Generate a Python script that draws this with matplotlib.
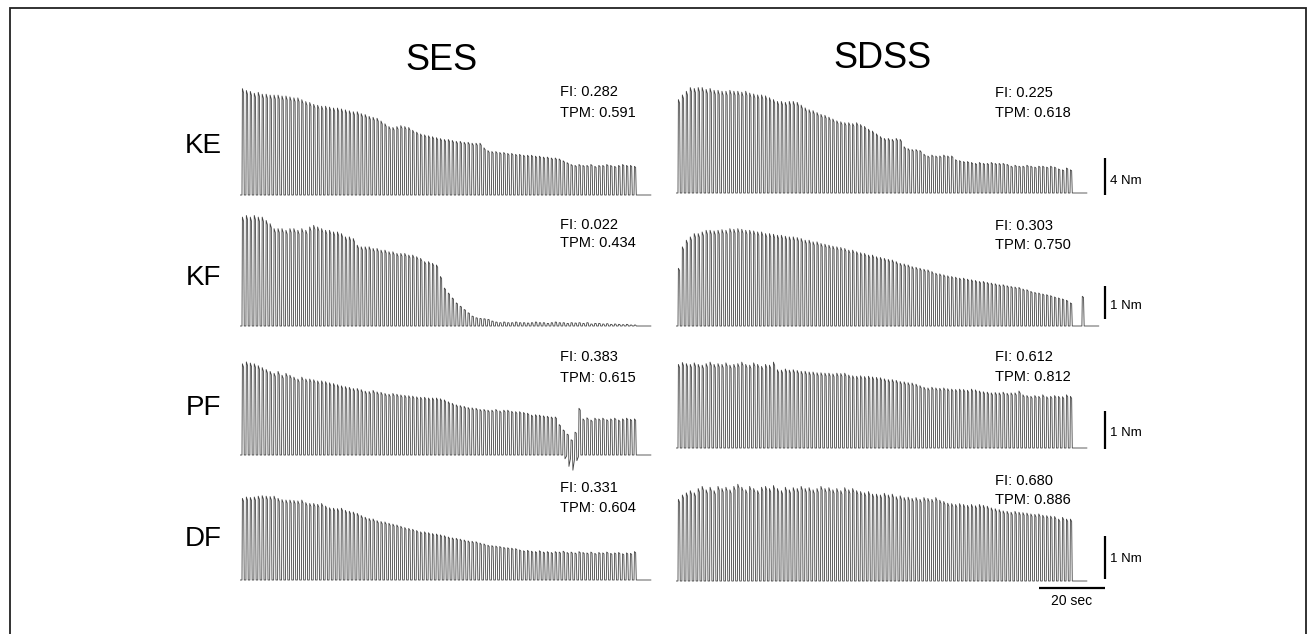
import numpy as np
import matplotlib
matplotlib.use("Agg")
import matplotlib.pyplot as plt
from matplotlib.patches import Rectangle

plt.rcParams['font.family'] = ['Liberation Sans', 'DejaVu Sans']

# ---------------- data (peak torque of each contraction, Nm) ----------------
muscles = ['KE', 'KF', 'PF', 'DF']
protocols = ['SES', 'SDSS']
fi_ses = [0.282, 0.022, 0.383, 0.331]
tpm_ses = [0.591, 0.434, 0.615, 0.604]
fi_sdss = [0.225, 0.303, 0.612, 0.680]
tpm_sdss = [0.618, 0.750, 0.812, 0.886]
scale_nm = [4, 1, 1, 1]
time_bar_s = 20

ke_ses = [11.5, 11.3, 11.2, 11.0, 11.1, 10.9, 10.9, 10.8, 10.8, 10.8,
          10.7, 10.7, 10.6, 10.5, 10.5, 10.3, 10.1, 10.0, 9.8, 9.7,
          9.6, 9.6, 9.5, 9.4, 9.4, 9.3, 9.2, 9.1, 9.0, 9.0,
          8.8, 8.7, 8.5, 8.4, 8.3, 8.0, 7.7, 7.4, 7.3, 7.4,
          7.5, 7.4, 7.3, 7.0, 6.8, 6.6, 6.5, 6.4, 6.3, 6.2,
          6.1, 6.0, 6.0, 5.9, 5.8, 5.8, 5.7, 5.7, 5.6, 5.6,
          5.6, 5.1, 4.8, 4.7, 4.7, 4.6, 4.6, 4.5, 4.5, 4.4,
          4.4, 4.3, 4.3, 4.3, 4.2, 4.2, 4.1, 4.1, 4.0, 4.0,
          3.9, 3.7, 3.5, 3.3, 3.2, 3.3, 3.2, 3.2, 3.3, 3.1,
          3.2, 3.2, 3.3, 3.2, 3.1, 3.2, 3.3, 3.2, 3.2, 3.1]
ke_sdss = [10.1, 10.6, 11.0, 11.4, 11.3, 11.4, 11.4, 11.2, 11.3, 11.1,
           11.1, 11.0, 11.0, 11.1, 11.0, 11.0, 10.9, 11.0, 10.8, 10.7,
           10.6, 10.6, 10.5, 10.3, 10.1, 9.9, 9.9, 9.8, 9.9, 9.9,
           9.8, 9.5, 9.2, 9.0, 8.9, 8.7, 8.5, 8.4, 8.2, 8.0,
           7.8, 7.7, 7.6, 7.6, 7.5, 7.6, 7.4, 7.2, 6.9, 6.7,
           6.4, 6.1, 5.9, 5.9, 5.8, 5.9, 5.8, 5.0, 4.8, 4.7,
           4.7, 4.6, 4.2, 4.0, 4.1, 4.0, 4.0, 4.1, 4.0, 4.0,
           3.6, 3.5, 3.4, 3.4, 3.3, 3.2, 3.3, 3.2, 3.2, 3.3,
           3.2, 3.2, 3.2, 3.1, 2.9, 3.0, 2.9, 2.9, 3.0, 2.9,
           2.8, 2.9, 2.9, 2.8, 2.9, 2.8, 2.6, 2.5, 2.7, 2.5]
kf_ses = [3.3, 3.35, 3.3, 3.35, 3.3, 3.3, 3.2, 3.1, 2.95, 2.95,
          2.95, 2.9, 2.95, 2.95, 2.9, 2.95, 2.9, 3.0, 3.05, 3.0,
          2.95, 2.9, 2.9, 2.85, 2.85, 2.8, 2.7, 2.7, 2.65, 2.45,
          2.4, 2.4, 2.4, 2.35, 2.35, 2.3, 2.3, 2.25, 2.25, 2.2,
          2.2, 2.2, 2.15, 2.15, 2.1, 2.05, 1.95, 1.95, 1.9, 1.85,
          1.5, 1.15, 1.0, 0.85, 0.7, 0.6, 0.5, 0.4, 0.3, 0.25,
          0.23, 0.22, 0.2, 0.15, 0.12, 0.1, 0.12, 0.1, 0.1, 0.12,
          0.1, 0.1, 0.09, 0.1, 0.12, 0.1, 0.1, 0.08, 0.1, 0.12,
          0.1, 0.1, 0.08, 0.1, 0.09, 0.1, 0.08, 0.1, 0.06, 0.08,
          0.08, 0.06, 0.07, 0.05, 0.06, 0.05, 0.04, 0.05, 0.03, 0.03]
kf_sdss = [1.75, 2.4, 2.6, 2.7, 2.8, 2.8, 2.85, 2.9, 2.9, 2.88,
           2.9, 2.92, 2.9, 2.95, 2.93, 2.95, 2.93, 2.9, 2.9, 2.88,
           2.85, 2.85, 2.8, 2.8, 2.78, 2.75, 2.75, 2.72, 2.7, 2.7,
           2.68, 2.65, 2.6, 2.6, 2.55, 2.55, 2.5, 2.48, 2.45, 2.42,
           2.4, 2.38, 2.35, 2.3, 2.3, 2.25, 2.22, 2.2, 2.15, 2.15,
           2.1, 2.08, 2.05, 2.02, 2.0, 1.95, 1.9, 1.88, 1.85, 1.8,
           1.78, 1.75, 1.72, 1.7, 1.65, 1.6, 1.58, 1.55, 1.52, 1.5,
           1.48, 1.45, 1.45, 1.42, 1.4, 1.38, 1.35, 1.35, 1.32, 1.3,
           1.28, 1.25, 1.25, 1.22, 1.2, 1.18, 1.17, 1.12, 1.1, 1.05,
           1.02, 1.0, 0.97, 0.95, 0.92, 0.88, 0.85, 0.82, 0.78, 0.7,
           0.0, 0.0, 0.9]
pf_ses = [2.4, 2.45, 2.42, 2.4, 2.35, 2.3, 2.25, 2.2, 2.15, 2.2,
          2.1, 2.15, 2.1, 2.05, 2.0, 2.05, 2.0, 2.0, 1.98, 1.95,
          1.95, 1.93, 1.9, 1.88, 1.85, 1.82, 1.8, 1.78, 1.75, 1.75,
          1.72, 1.68, 1.67, 1.7, 1.66, 1.65, 1.62, 1.6, 1.62, 1.6,
          1.58, 1.57, 1.56, 1.55, 1.53, 1.52, 1.52, 1.5, 1.5, 1.5,
          1.48, 1.45, 1.4, 1.36, 1.32, 1.3, 1.28, 1.25, 1.24, 1.23,
          1.2, 1.2, 1.18, 1.18, 1.2, 1.16, 1.18, 1.18, 1.15, 1.14,
          1.14, 1.12, 1.1, 1.05, 1.06, 1.05, 1.03, 1.02, 1.0, 1.0,
          0.8, 0.66, 0.55, 0.4, 0.6, 1.23, 0.95, 0.98, 0.92, 0.97,
          0.95, 0.97, 0.93, 0.95, 0.97, 0.92, 0.95, 0.97, 0.94, 0.95]
pf_ses_dip_idx = [81, 82, 83, 84]
pf_ses_dip_nm = [-0.1, -0.3, -0.4, -0.15]
pf_sdss = [2.2, 2.25, 2.22, 2.2, 2.24, 2.2, 2.18, 2.22, 2.26, 2.2,
           2.22, 2.2, 2.24, 2.18, 2.2, 2.22, 2.26, 2.2, 2.18, 2.24,
           2.2, 2.15, 2.2, 2.18, 2.26, 2.06, 2.05, 2.08, 2.05, 2.06,
           2.04, 2.02, 2.02, 2.0, 2.0, 1.98, 1.98, 1.97, 1.97, 1.95,
           1.97, 1.96, 1.97, 1.92, 1.9, 1.89, 1.9, 1.88, 1.89, 1.87,
           1.86, 1.85, 1.82, 1.8, 1.8, 1.78, 1.75, 1.74, 1.72, 1.71,
           1.68, 1.64, 1.6, 1.58, 1.6, 1.58, 1.57, 1.58, 1.56, 1.55,
           1.54, 1.55, 1.54, 1.52, 1.55, 1.53, 1.5, 1.48, 1.47, 1.45,
           1.46, 1.45, 1.47, 1.44, 1.45, 1.45, 1.5, 1.4, 1.38, 1.36,
           1.38, 1.36, 1.4, 1.35, 1.36, 1.38, 1.36, 1.35, 1.4, 1.36]
df_ses = [1.9, 1.93, 1.92, 1.93, 1.95, 1.96, 1.95, 1.94, 1.95, 1.9,
          1.87, 1.86, 1.86, 1.85, 1.84, 1.86, 1.8, 1.78, 1.78, 1.76,
          1.78, 1.72, 1.68, 1.67, 1.66, 1.67, 1.62, 1.6, 1.58, 1.55,
          1.5, 1.46, 1.43, 1.42, 1.38, 1.36, 1.35, 1.32, 1.3, 1.28,
          1.25, 1.22, 1.2, 1.18, 1.15, 1.12, 1.12, 1.1, 1.08, 1.07,
          1.05, 1.03, 1.0, 0.98, 0.97, 0.95, 0.93, 0.91, 0.9, 0.89,
          0.86, 0.84, 0.81, 0.8, 0.79, 0.78, 0.76, 0.75, 0.74, 0.73,
          0.7, 0.68, 0.69, 0.67, 0.66, 0.68, 0.65, 0.66, 0.64, 0.66,
          0.65, 0.67, 0.64, 0.65, 0.63, 0.66, 0.64, 0.63, 0.65, 0.62,
          0.64, 0.63, 0.65, 0.62, 0.63, 0.64, 0.61, 0.63, 0.62, 0.66]
df_sdss = [1.9, 2.0, 2.05, 2.1, 2.05, 2.15, 2.2, 2.12, 2.18, 2.1,
           2.2, 2.15, 2.18, 2.12, 2.2, 2.25, 2.18, 2.12, 2.2, 2.15,
           2.1, 2.18, 2.2, 2.15, 2.22, 2.15, 2.1, 2.18, 2.12, 2.17,
           2.15, 2.2, 2.15, 2.17, 2.12, 2.15, 2.2, 2.15, 2.17, 2.12,
           2.15, 2.1, 2.17, 2.12, 2.15, 2.1, 2.08, 2.05, 2.08, 2.02,
           2.02, 2.0, 2.04, 2.0, 2.02, 1.96, 1.98, 1.94, 1.95, 1.92,
           1.94, 1.9, 1.94, 1.92, 1.9, 1.94, 1.88, 1.85, 1.81, 1.8,
           1.78, 1.8, 1.78, 1.76, 1.78, 1.75, 1.78, 1.76, 1.74, 1.7,
           1.68, 1.66, 1.63, 1.62, 1.6, 1.62, 1.6, 1.59, 1.58, 1.56,
           1.55, 1.56, 1.53, 1.52, 1.51, 1.5, 1.44, 1.48, 1.44, 1.44]

peaks = {('KE', 'SES'): ke_ses, ('KE', 'SDSS'): ke_sdss,
         ('KF', 'SES'): kf_ses, ('KF', 'SDSS'): kf_sdss,
         ('PF', 'SES'): pf_ses, ('PF', 'SDSS'): pf_sdss,
         ('DF', 'SES'): df_ses, ('DF', 'SDSS'): df_sdss}
dips = {('PF', 'SES'): dict(zip(pf_ses_dip_idx, pf_ses_dip_nm))}

# ---------------- layout (pixels) ----------------
W, H = 1310, 634
PX_PER_S = 66 / 20.0
row_px_per_nm = [9.25, 33.0, 38.0, 43.0]
col_left_px = {'SES': 240, 'SDSS': 676}
baseline_px = {'SES': [195, 326, 455, 580], 'SDSS': [193, 326, 448, 581]}
XSPAN = 135.0
BELOW, ABOVE = 25, 125

PERIOD, ON, PRE, POST = 1.2, 0.6, 0.6, 4.5


def waveform(pk, dip):
    t = [0.0, PRE]
    y = [0.0, 0.0]
    for i, p in enumerate(pk):
        t0 = PRE + i * PERIOD
        if p <= 0:
            continue
        d = dip.get(i, 0.0)
        t += [t0, t0 + 0.12, t0 + ON - 0.1, t0 + ON + 0.08, t0 + PERIOD - 0.05]
        y += [0.0, p, p * 0.96, d, d * 0.3]
    t += [PRE + (len(pk) - 1) * PERIOD + ON + POST]
    y += [0.0]
    return np.array(t), np.array(y)


fig = plt.figure(figsize=(W / 100, H / 100), dpi=100)


def fx(px):
    return px / W


def fy(py):
    return 1 - py / H


# frame
fig.patches.append(Rectangle((fx(10), -0.05), fx(1296), fy(8) + 0.05, transform=fig.transFigure,
                             fill=False, edgecolor='#222222', linewidth=1.3))

axes = {}
for r, m in enumerate(muscles):
    s = row_px_per_nm[r]
    for c in protocols:
        b = baseline_px[c][r]
        ax = fig.add_axes([fx(col_left_px[c]), fy(b + BELOW), XSPAN * PX_PER_S / W, (BELOW + ABOVE) / H])
        ax.set_xlim(0, XSPAN)
        ax.set_ylim(-BELOW / s, ABOVE / s)
        ax.axis('off')
        t, y = waveform(peaks[(m, c)], dips.get((m, c), {}))
        ax.plot(t, y, color='#444444', linewidth=0.6)
        axes[(m, c)] = ax

# scale bars (drawn in SDSS axes)
bar_t = 130.0
bar_bottom = [-0.2, 0.2, -0.03, 0.05]
label_y = [1.3, 0.6, 0.4, 0.5]
for r, m in enumerate(muscles):
    ax = axes[(m, 'SDSS')]
    ax.plot([bar_t, bar_t], [bar_bottom[r], bar_bottom[r] + scale_nm[r]], color='black',
            linewidth=1.6, clip_on=False, solid_capstyle='butt')
    ax.text(bar_t + 1.6, label_y[r], f'{scale_nm[r]} Nm', fontsize=9.5, ha='left', va='center')

axd = axes[('DF', 'SDSS')]
axd.plot([bar_t - time_bar_s, bar_t], [-0.16, -0.16], color='black', linewidth=1.6,
         clip_on=False, solid_capstyle='butt')
axd.text(bar_t - time_bar_s / 2, -0.3, f'{time_bar_s} sec', fontsize=10, ha='center', va='top')

# titles and row labels
fig.text(fx(441), fy(70), 'SES', fontsize=26, ha='center', va='baseline')
fig.text(fx(882), fy(68), 'SDSS', fontsize=26, ha='center', va='baseline')
row_label_base = [153, 285, 415, 546]
for r, m in enumerate(muscles):
    fig.text(fx(203), fy(row_label_base[r]), m, fontsize=20, ha='center', va='baseline')

# FI / TPM annotations
ann_x = {'SES': 560, 'SDSS': 995}
fi_base = {'SES': [96, 229, 361, 492], 'SDSS': [97, 230, 361, 485]}
tpm_base = {'SES': [117, 247, 382, 512], 'SDSS': [117, 249, 381, 504]}
fi_vals = {'SES': fi_ses, 'SDSS': fi_sdss}
tpm_vals = {'SES': tpm_ses, 'SDSS': tpm_sdss}
for c in protocols:
    for r in range(len(muscles)):
        fig.text(fx(ann_x[c]), fy(fi_base[c][r]), f'FI: {fi_vals[c][r]:.3f}', fontsize=10.5,
                 ha='left', va='baseline')
        fig.text(fx(ann_x[c]), fy(tpm_base[c][r]), f'TPM: {tpm_vals[c][r]:.3f}', fontsize=10.5,
                 ha='left', va='baseline')

fig.savefig('out.png', dpi=100)
